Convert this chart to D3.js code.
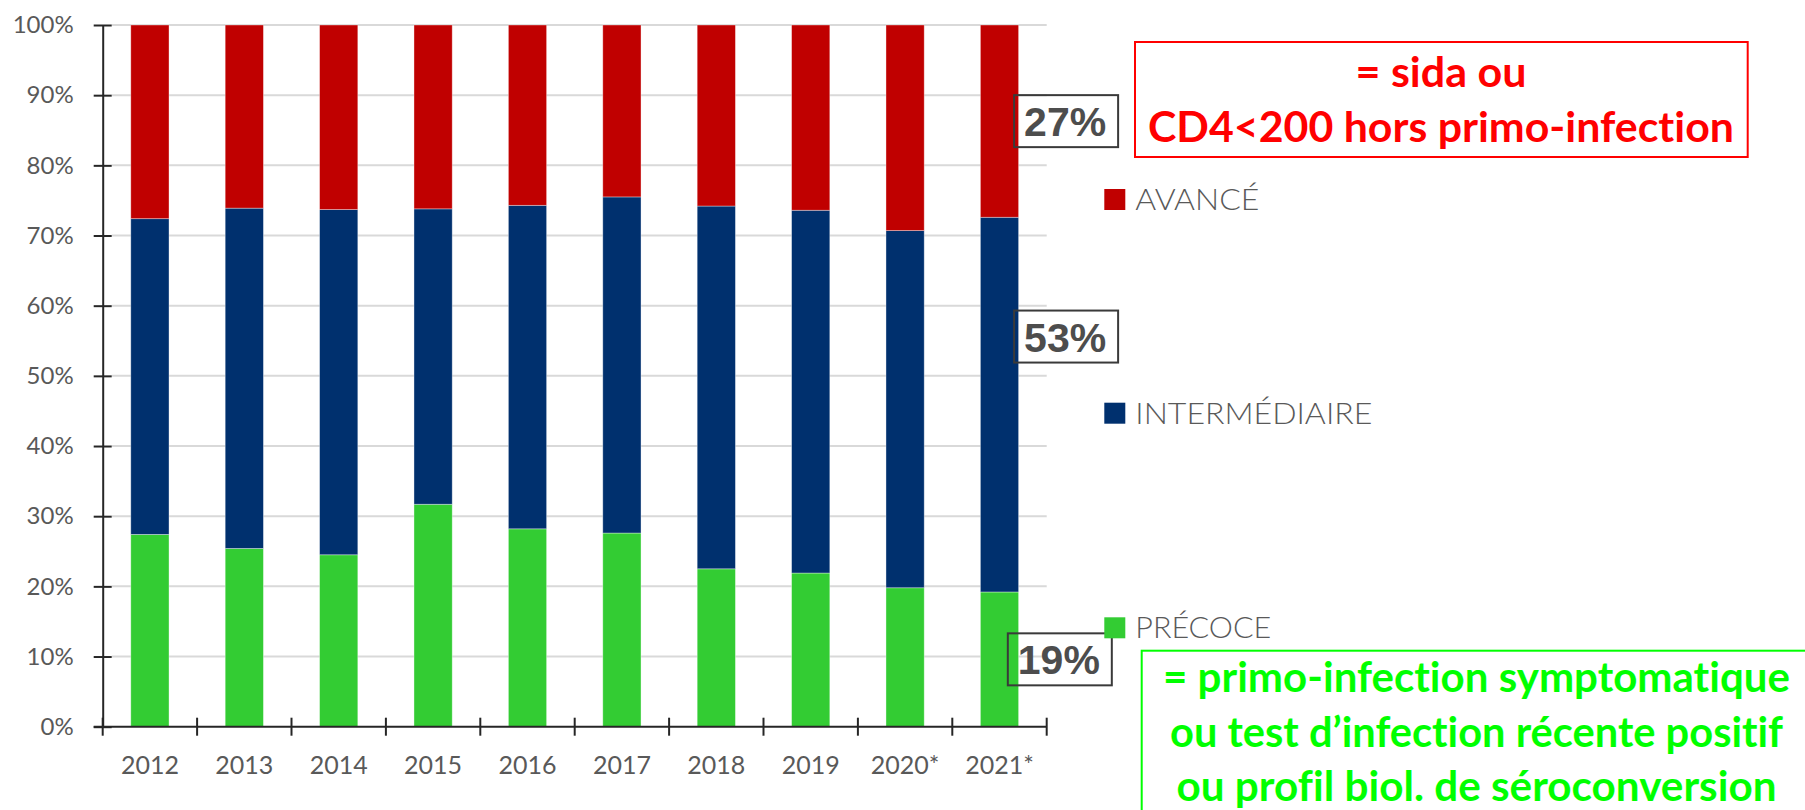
<!DOCTYPE html>
<html>
<head>
<meta charset="utf-8">
<script src="https://cdn.jsdelivr.net/npm/d3@7"></script>
<style>
    body { margin: 0; background: #fff; }
    #chart { width: 1805px; height: 810px; overflow: hidden; }
    text { font-variant-ligatures: none; font-feature-settings: "liga" 0, "dlig" 0; }
</style>
</head>
<body>
<div id="chart"></div>
<script>
// data (% of diagnoses)
const years = ["2012", "2013", "2014", "2015", "2016", "2017", "2018", "2019", "2020*", "2021*"];
const precoce = [27.4, 25.4, 24.5, 31.7, 28.2, 27.6, 22.5, 21.9, 19.8, 19.2];
const intermediaire = [45.0, 48.5, 49.2, 42.1, 46.1, 47.9, 51.7, 51.7, 50.9, 53.4];
const avance = [27.6, 26.1, 26.3, 26.2, 25.7, 24.5, 25.8, 26.4, 29.3, 27.4];
const seriesKeys = ["precoce", "intermediaire", "avance"];
const seriesNames = ["PRÉCOCE", "INTERMÉDIAIRE", "AVANCÉ"];
const yTicks = [0, 10, 20, 30, 40, 50, 60, 70, 80, 90, 100];
const lastYearLabels = ["27%", "53%", "19%"];
const redNote = ["= sida ou", "CD4<200 hors primo-infection"];
const greenNote = ["= primo-infection symptomatique", "ou test d’infection récente positif", "ou profil biol. de séroconversion"];

class StackedBars {
    constructor() {
        this.rows = years.map((y, i) => ({
            year: y, precoce: precoce[i], intermediaire: intermediaire[i], avance: avance[i]
        }));
        this.initVis();
    }

    initVis() {
        let vis = this;

        vis.colors = {precoce: "#33CC33", intermediaire: "#00306E", avance: "#C00000"};
        vis.left = 102.7; vis.right = 1046.7; vis.top = 25; vis.bottom = 726.7;

        vis.svg = d3.select("#chart").append("svg")
            .attr("width", 1805)
            .attr("height", 810)
            .attr("font-family", "Lato, 'Open Sans', sans-serif");

        const x = d3.scaleBand().domain(years).range([vis.left, vis.right]);
        const y = d3.scaleLinear().domain([0, 100]).range([vis.bottom, vis.top]);
        const barW = x.bandwidth() * 0.405;

        // grey gridlines
        vis.svg.append("g")
            .selectAll("line")
            .data(yTicks.filter(d => d > 0))
            .join("line")
            .attr("x1", vis.left + 9).attr("x2", vis.right)
            .attr("y1", d => y(d)).attr("y2", d => y(d))
            .attr("stroke", "#d9d9d9")
            .attr("stroke-width", 2);

        // stacked bars
        const stack = d3.stack().keys(seriesKeys)(vis.rows);
        vis.svg.append("g")
            .selectAll("g")
            .data(stack)
            .join("g")
            .attr("fill", d => vis.colors[d.key])
            .selectAll("rect")
            .data(d => d)
            .join("rect")
            .attr("x", d => x(d.data.year) + (x.bandwidth() - barW) / 2)
            .attr("width", barW)
            .attr("y", d => y(d[1]))
            .attr("height", d => y(d[0]) - y(d[1]))
            .attr("stroke", "#ffffff")
            .attr("stroke-opacity", 0.45)
            .attr("stroke-width", 0.8);

        // Y axis
        const yAxis = vis.svg.append("g")
            .attr("transform", `translate(${vis.left},0)`)
            .call(d3.axisLeft(y)
                .tickValues(yTicks)
                .tickFormat(d => d + "%")
                .tickSize(9)
                .tickSizeOuter(0)
                .tickPadding(20));
        yAxis.selectAll(".tick line").attr("x1", 9);
        yAxis.selectAll("line, path").attr("stroke", "#262626").attr("stroke-width", 2);
        yAxis.selectAll("text")
            .attr("fill", "#595959")
            .attr("font-size", 24)
            .attr("font-family", "Lato, sans-serif");

        // X axis: ticks at band edges, labels at band centres
        const edges = years.map(d => x(d)).concat([x.range()[1]]);
        const xAxis = vis.svg.append("g");
        xAxis.append("line")
            .attr("x1", vis.left - 9).attr("x2", vis.right)
            .attr("y1", vis.bottom).attr("y2", vis.bottom)
            .attr("stroke", "#262626").attr("stroke-width", 2);
        xAxis.selectAll(".edge")
            .data(edges)
            .join("line")
            .attr("class", "edge")
            .attr("x1", d => d).attr("x2", d => d)
            .attr("y1", vis.bottom - 9).attr("y2", vis.bottom + 9)
            .attr("stroke", "#262626").attr("stroke-width", 2);
        xAxis.selectAll("text")
            .data(years)
            .join("text")
            .attr("x", d => x(d) + x.bandwidth() / 2)
            .attr("y", vis.bottom + 47.3)
            .attr("text-anchor", "middle")
            .attr("fill", "#595959")
            .attr("font-size", 25)
            .text(d => d);

        // boxed labels next to the 2021 bar
        const last = stack.map(s => s[s.length - 1]);
        const barRight = x(years[years.length - 1]) + (x.bandwidth() + barW) / 2;
        const boxes = [
            {text: lastYearLabels[0], cy: y((last[2][0] + last[2][1]) / 2), dx: -4.5},
            {text: lastYearLabels[1], cy: y(55.6), dx: -4.5},
            {text: lastYearLabels[2], cy: y((last[0][0] + last[0][1]) / 2), dx: -10.8}
        ];
        const bx = vis.svg.append("g")
            .selectAll("g")
            .data(boxes)
            .join("g")
            .attr("transform", d => `translate(${barRight + d.dx},${d.cy - 26})`);
        bx.append("rect")
            .attr("width", 104).attr("height", 52)
            .attr("fill", "none")
            .attr("stroke", "#3a3a3a")
            .attr("stroke-width", 2);
        bx.append("text")
            .attr("x", 51).attr("y", 41)
            .attr("text-anchor", "middle")
            .attr("font-family", "'Liberation Sans', Arial, sans-serif")
            .attr("font-weight", "bold")
            .attr("font-size", 41)
            .attr("fill", "#4d4d4d")
            .text(d => d.text);

        // legend
        const legendY = {avance: 210, intermediaire: 423.7, precoce: 638.3};
        const legendW = {avance: 124, intermediaire: 237, precoce: 136};
        const lg = vis.svg.append("g")
            .selectAll("g")
            .data(seriesKeys)
            .join("g")
            .attr("transform", d => `translate(1104.3,${legendY[d]})`);
        lg.append("rect")
            .attr("y", -21).attr("width", 21).attr("height", 21)
            .attr("fill", d => vis.colors[d]);
        lg.append("text")
            .attr("x", 31)
            .attr("font-size", 29)
            .attr("font-weight", 300)
            .attr("fill", "#595959")
            .attr("textLength", d => legendW[d])
            .attr("lengthAdjust", "spacingAndGlyphs")
            .text((d, i) => seriesNames[i]);

        // red note box
        vis.svg.append("rect")
            .attr("x", 1135).attr("y", 42)
            .attr("width", 612.7).attr("height", 115)
            .attr("fill", "none")
            .attr("stroke", "#FF0000")
            .attr("stroke-width", 2);
        vis.svg.append("g")
            .selectAll("text")
            .data(redNote)
            .join("text")
            .attr("x", 1441)
            .attr("y", (d, i) => 86.7 + i * 55)
            .attr("text-anchor", "middle")
            .attr("font-size", 42)
            .attr("font-weight", "bold")
            .attr("fill", "#FF0000")
            .attr("textLength", (d, i) => [171, 586][i])
            .attr("lengthAdjust", "spacingAndGlyphs")
            .text(d => d);

        // green note box (runs off the picture)
        vis.svg.append("rect")
            .attr("x", 1141.7).attr("y", 650.7)
            .attr("width", 700).attr("height", 200)
            .attr("fill", "none")
            .attr("stroke", "#00FF00")
            .attr("stroke-width", 2);
        vis.svg.append("g")
            .selectAll("text")
            .data(greenNote)
            .join("text")
            .attr("x", 1476.5)
            .attr("y", (d, i) => 692 + i * 54.5)
            .attr("text-anchor", "middle")
            .attr("font-size", 42)
            .attr("font-weight", "bold")
            .attr("fill", "#00FF00")
            .attr("textLength", (d, i) => [627, 613, 600][i])
            .attr("lengthAdjust", "spacingAndGlyphs")
            .text(d => d);
    }
}

new StackedBars();
</script>
</body>
</html>
